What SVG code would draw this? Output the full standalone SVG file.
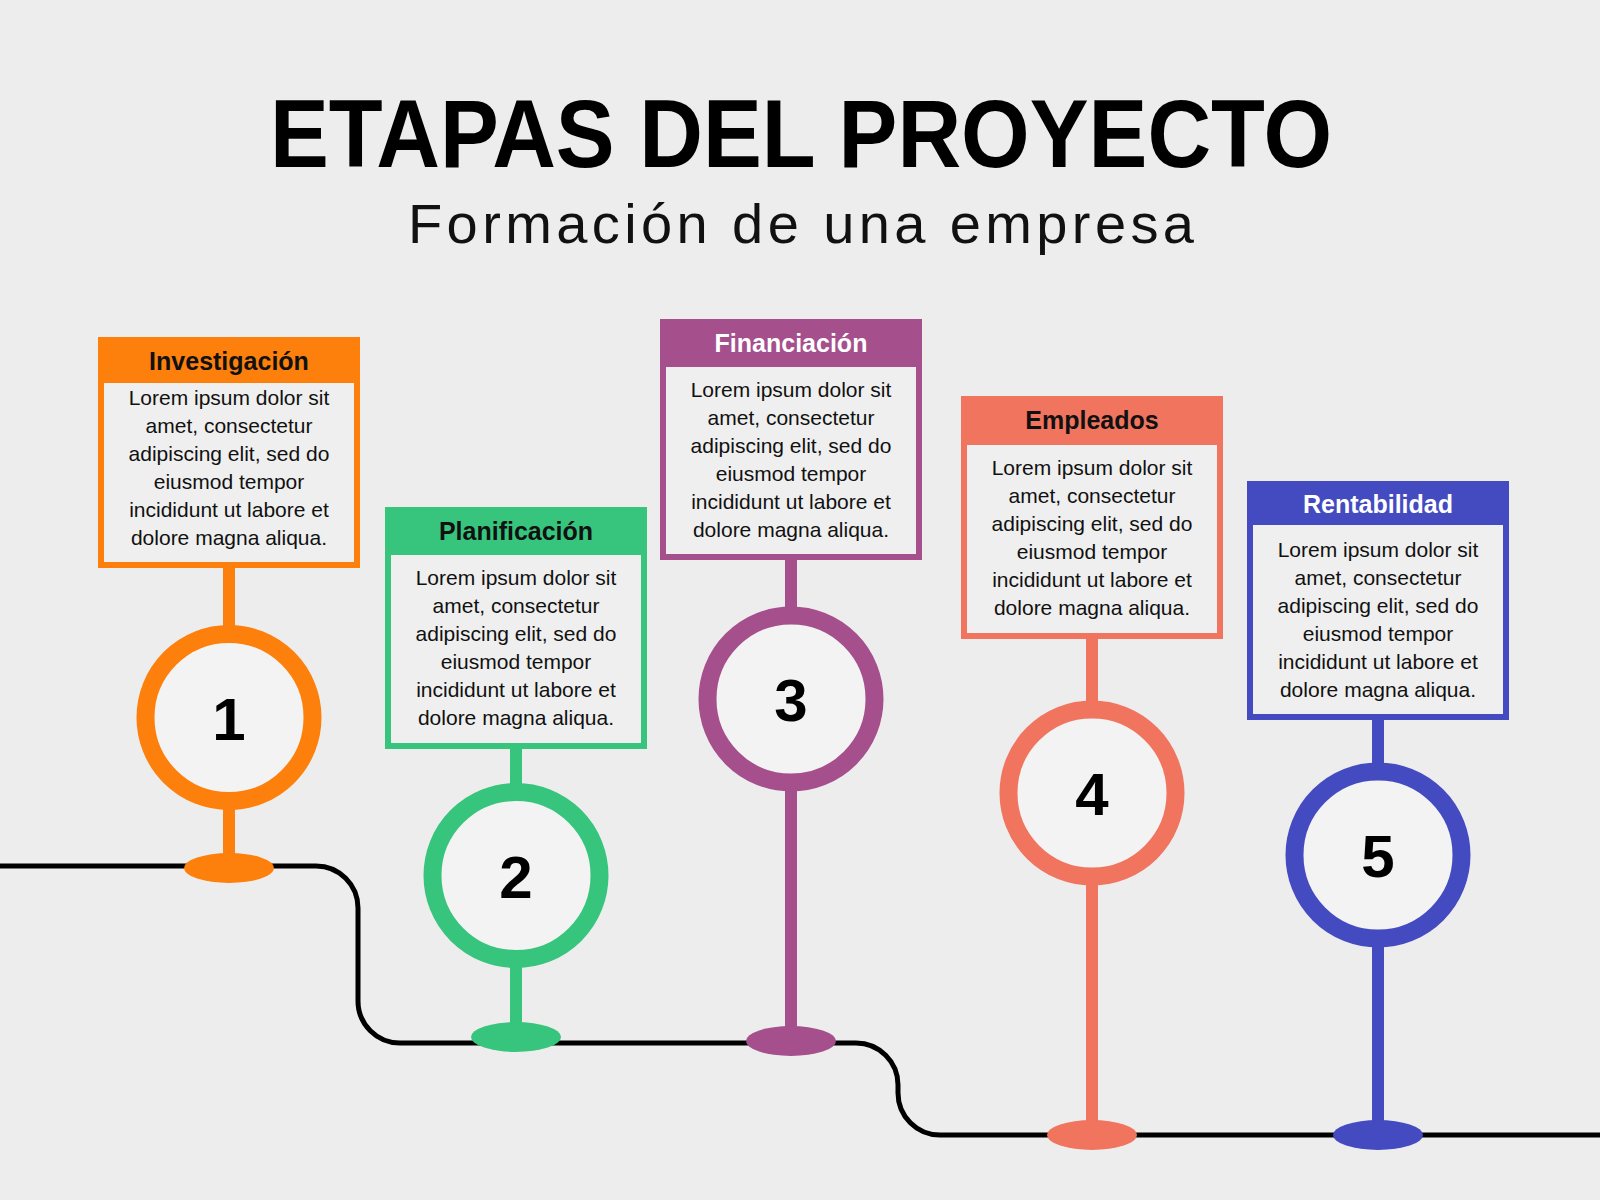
<svg xmlns="http://www.w3.org/2000/svg" width="1600" height="1200" viewBox="0 0 1600 1200">
<style>
.title{font-family:"Liberation Sans",Arial,sans-serif;font-weight:bold;font-size:97px;fill:#000;text-anchor:middle}
.sub{font-family:"Liberation Sans",Arial,sans-serif;font-size:56px;fill:#111;text-anchor:middle}
.hd{font-family:"Liberation Sans",Arial,sans-serif;font-weight:bold;font-size:25px;text-anchor:middle}
.bd{font-family:"Liberation Sans",Arial,sans-serif;font-size:21px;fill:#111;text-anchor:middle}
.num{font-family:"Liberation Sans",Arial,sans-serif;font-weight:bold;font-size:60px;fill:#000;text-anchor:middle}
.box{fill:#efefef;stroke-width:6}
.ring{fill:#f3f3f3;stroke-width:18}
.stem{stroke-width:12}
.road{fill:none;stroke:#000;stroke-width:5}
</style>
<rect width="1600" height="1200" fill="#ededed"/>
<text class="title" x="801" y="167" textLength="1062" lengthAdjust="spacingAndGlyphs">ETAPAS DEL PROYECTO</text>
<text class="sub" x="801" y="243" textLength="786" lengthAdjust="spacing">Formación de una empresa</text>

<g id="connectors">
<path class="road" d="M0,866 H316 A42,42 0 0 1 358,908 V1001 A42,42 0 0 0 400,1043 H856 A42,42 0 0 1 898,1085 V1093 A42,42 0 0 0 940,1135 H1600"/>
</g>

<g id="node-1">
<line class="stem" x1="229" y1="566" x2="229" y2="868" stroke="#fd7f0c"/>
<ellipse cx="229" cy="868" rx="45" ry="15" fill="#fd7f0c"/>
<circle class="ring" cx="229" cy="717.5" r="83.5" stroke="#fd7f0c"/>
<text class="num" x="229" y="740">1</text>
<rect class="box" x="101" y="340" width="256" height="225" stroke="#fd7f0c"/>
<rect x="98" y="337" width="262" height="46" fill="#fd7f0c"/>
<text class="hd" x="229" y="370" fill="#111">Investigación</text>
<text class="bd" x="229" y="405">Lorem ipsum dolor sit</text>
<text class="bd" x="229" y="433">amet, consectetur</text>
<text class="bd" x="229" y="461">adipiscing elit, sed do</text>
<text class="bd" x="229" y="489">eiusmod tempor</text>
<text class="bd" x="229" y="517">incididunt ut labore et</text>
<text class="bd" x="229" y="545">dolore magna aliqua.</text>
</g>

<g id="node-2">
<line class="stem" x1="516" y1="747" x2="516" y2="1037" stroke="#37c57d"/>
<ellipse cx="516" cy="1037" rx="45" ry="15" fill="#37c57d"/>
<circle class="ring" cx="516" cy="875.5" r="83.5" stroke="#37c57d"/>
<text class="num" x="516" y="898">2</text>
<rect class="box" x="388" y="510" width="256" height="236" stroke="#37c57d"/>
<rect x="385" y="507" width="262" height="48" fill="#37c57d"/>
<text class="hd" x="516" y="540" fill="#111">Planificación</text>
<text class="bd" x="516" y="585">Lorem ipsum dolor sit</text>
<text class="bd" x="516" y="613">amet, consectetur</text>
<text class="bd" x="516" y="641">adipiscing elit, sed do</text>
<text class="bd" x="516" y="669">eiusmod tempor</text>
<text class="bd" x="516" y="697">incididunt ut labore et</text>
<text class="bd" x="516" y="725">dolore magna aliqua.</text>
</g>

<g id="node-3">
<line class="stem" x1="791" y1="558" x2="791" y2="1041" stroke="#a54f8d"/>
<ellipse cx="791" cy="1041" rx="45" ry="15" fill="#a54f8d"/>
<circle class="ring" cx="791" cy="699" r="83.5" stroke="#a54f8d"/>
<text class="num" x="791" y="721">3</text>
<rect class="box" x="663" y="322" width="256" height="235" stroke="#a54f8d"/>
<rect x="660" y="319" width="262" height="48" fill="#a54f8d"/>
<text class="hd" x="791" y="352" fill="#fff">Financiación</text>
<text class="bd" x="791" y="397">Lorem ipsum dolor sit</text>
<text class="bd" x="791" y="425">amet, consectetur</text>
<text class="bd" x="791" y="453">adipiscing elit, sed do</text>
<text class="bd" x="791" y="481">eiusmod tempor</text>
<text class="bd" x="791" y="509">incididunt ut labore et</text>
<text class="bd" x="791" y="537">dolore magna aliqua.</text>
</g>

<g id="node-4">
<line class="stem" x1="1092" y1="637" x2="1092" y2="1135" stroke="#f1745f"/>
<ellipse cx="1092" cy="1135" rx="45" ry="15" fill="#f1745f"/>
<circle class="ring" cx="1092" cy="793" r="83.5" stroke="#f1745f"/>
<text class="num" x="1092" y="815">4</text>
<rect class="box" x="964" y="399" width="256" height="237" stroke="#f1745f"/>
<rect x="961" y="396" width="262" height="49" fill="#f1745f"/>
<text class="hd" x="1092" y="429" fill="#111">Empleados</text>
<text class="bd" x="1092" y="475">Lorem ipsum dolor sit</text>
<text class="bd" x="1092" y="503">amet, consectetur</text>
<text class="bd" x="1092" y="531">adipiscing elit, sed do</text>
<text class="bd" x="1092" y="559">eiusmod tempor</text>
<text class="bd" x="1092" y="587">incididunt ut labore et</text>
<text class="bd" x="1092" y="615">dolore magna aliqua.</text>
</g>

<g id="node-5">
<line class="stem" x1="1378" y1="718" x2="1378" y2="1135" stroke="#444bc0"/>
<ellipse cx="1378" cy="1135" rx="45" ry="15" fill="#444bc0"/>
<circle class="ring" cx="1378" cy="855" r="83.5" stroke="#444bc0"/>
<text class="num" x="1378" y="877">5</text>
<rect class="box" x="1250" y="484" width="256" height="233" stroke="#444bc0"/>
<rect x="1247" y="481" width="262" height="44" fill="#444bc0"/>
<text class="hd" x="1378" y="513" fill="#fff">Rentabilidad</text>
<text class="bd" x="1378" y="557">Lorem ipsum dolor sit</text>
<text class="bd" x="1378" y="585">amet, consectetur</text>
<text class="bd" x="1378" y="613">adipiscing elit, sed do</text>
<text class="bd" x="1378" y="641">eiusmod tempor</text>
<text class="bd" x="1378" y="669">incididunt ut labore et</text>
<text class="bd" x="1378" y="697">dolore magna aliqua.</text>
</g>
</svg>
